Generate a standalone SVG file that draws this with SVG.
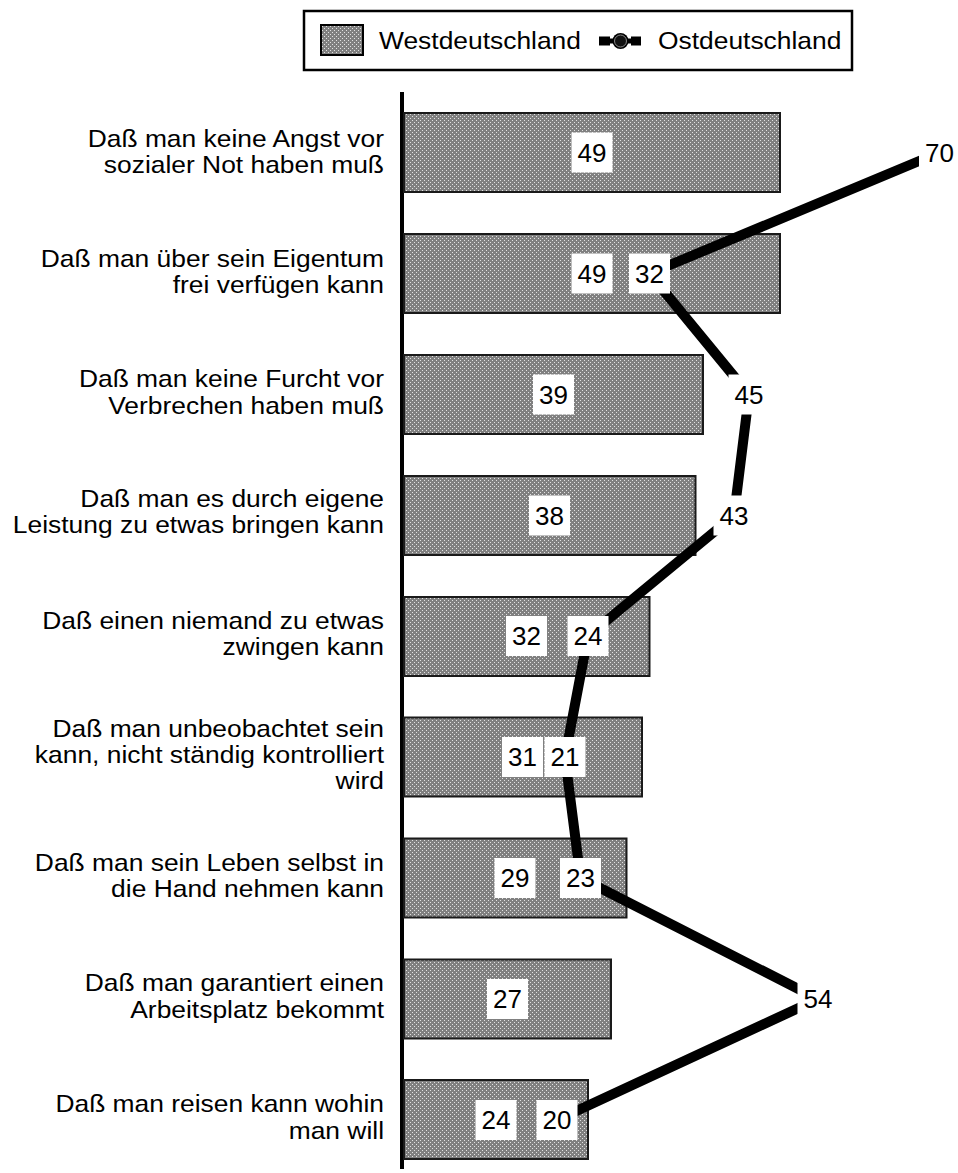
<svg xmlns="http://www.w3.org/2000/svg" width="958" height="1173" viewBox="0 0 958 1173">
<defs>
<pattern id="dots" width="4" height="4" patternUnits="userSpaceOnUse">
<rect width="4" height="4" fill="#808080"/>
<rect x="0" y="0" width="1" height="1" fill="#e2e2e2"/>
<rect x="2" y="2" width="1" height="1" fill="#e2e2e2"/>
</pattern>
<style>
.lbl{font-family:"Liberation Sans",Arial,sans-serif;font-size:24px;fill:#000;text-anchor:end}
.leg{font-family:"Liberation Sans",Arial,sans-serif;font-size:24px;fill:#000}
.bar{fill:url(#dots);stroke:#1a1a1a;stroke-width:2}
.box{fill:#fff}
.num{font-family:"Liberation Sans",Arial,sans-serif;font-size:26px;fill:#000;text-anchor:middle}
.ost{fill:none;stroke:#000;stroke-width:10;stroke-linejoin:round}
</style>
</defs>
<rect width="958" height="1173" fill="#fff"/>

<g id="legend">
<rect x="304" y="11" width="548" height="59" fill="#fff" stroke="#000" stroke-width="2.5"/>
<rect x="321" y="25" width="42" height="30" fill="url(#dots)" stroke="#000" stroke-width="2"/>
<text class="leg" transform="translate(379,49) scale(1.1,1)">Westdeutschland</text>
<line x1="600" y1="41" x2="640" y2="41" stroke="#000" stroke-width="5"/>
<rect x="599" y="36.5" width="11" height="9" fill="#000"/>
<rect x="631" y="36.5" width="10" height="9" fill="#000"/>
<circle cx="620.5" cy="41" r="8" fill="#000"/>
<circle cx="620.5" cy="41" r="6" fill="#111" stroke="#888" stroke-width="1"/>
<text class="leg" transform="translate(658,49) scale(1.1,1)">Ostdeutschland</text>
</g>

<g id="axis">
<line x1="402" y1="92" x2="402" y2="1169" stroke="#000" stroke-width="4"/>
</g>

<g id="categories">
<g id="row-1">
<g transform="translate(384,0) scale(1.1,1)"><text class="lbl" x="0" y="147">Daß man keine Angst vor</text><text class="lbl" x="0" y="173.5">sozialer Not haben muß</text></g>
<rect class="bar" x="404" y="113" width="376" height="79"/>
</g>
<g id="row-2">
<g transform="translate(384,0) scale(1.1,1)"><text class="lbl" x="0" y="267">Daß man über sein Eigentum</text><text class="lbl" x="0" y="293.5">frei verfügen kann</text></g>
<rect class="bar" x="404" y="234" width="376" height="79"/>
</g>
<g id="row-3">
<g transform="translate(384,0) scale(1.1,1)"><text class="lbl" x="0" y="387.5">Daß man keine Furcht vor</text><text class="lbl" x="0" y="414">Verbrechen haben muß</text></g>
<rect class="bar" x="404" y="355" width="299" height="79"/>
</g>
<g id="row-4">
<g transform="translate(384,0) scale(1.1,1)"><text class="lbl" x="0" y="507">Daß man es durch eigene</text><text class="lbl" x="0" y="533">Leistung zu etwas bringen kann</text></g>
<rect class="bar" x="404" y="476" width="291.5" height="79"/>
</g>
<g id="row-5">
<g transform="translate(384,0) scale(1.1,1)"><text class="lbl" x="0" y="629">Daß einen niemand zu etwas</text><text class="lbl" x="0" y="655.5">zwingen kann</text></g>
<rect class="bar" x="404" y="597" width="245.5" height="79"/>
</g>
<g id="row-6">
<g transform="translate(384,0) scale(1.1,1)"><text class="lbl" x="0" y="737">Daß man unbeobachtet sein</text><text class="lbl" x="0" y="763">kann, nicht ständig kontrolliert</text><text class="lbl" x="0" y="789">wird</text></g>
<rect class="bar" x="404" y="717.5" width="238" height="79"/>
</g>
<g id="row-7">
<g transform="translate(384,0) scale(1.1,1)"><text class="lbl" x="0" y="871">Daß man sein Leben selbst in</text><text class="lbl" x="0" y="897.5">die Hand nehmen kann</text></g>
<rect class="bar" x="404" y="838.5" width="222.5" height="79"/>
</g>
<g id="row-8">
<g transform="translate(384,0) scale(1.1,1)"><text class="lbl" x="0" y="991.5">Daß man garantiert einen</text><text class="lbl" x="0" y="1018">Arbeitsplatz bekommt</text></g>
<rect class="bar" x="404" y="959.5" width="207" height="79"/>
</g>
<g id="row-9">
<g transform="translate(384,0) scale(1.1,1)"><text class="lbl" x="0" y="1112.5">Daß man reisen kann wohin</text><text class="lbl" x="0" y="1139">man will</text></g>
<rect class="bar" x="404" y="1080" width="184" height="79"/>
</g>
</g>

<g id="connectors">
<polyline class="ost" points="939.5,152.5 649.5,273.5 749,394.5 734,515.5 588,636 565,757 580.5,878 818,999 557,1120"/>
</g>

<g id="west-values">
<g id="w1"><rect class="box" x="571.5" y="132.5" width="41" height="40"/><text class="num" x="592" y="161.5">49</text></g>
<g id="w2"><rect class="box" x="571.5" y="253.5" width="41" height="40"/><text class="num" x="592" y="282.5">49</text></g>
<g id="w3"><rect class="box" x="533" y="374.5" width="41" height="40"/><text class="num" x="553.5" y="403.5">39</text></g>
<g id="w4"><rect class="box" x="529" y="495.5" width="41" height="40"/><text class="num" x="549.5" y="524.5">38</text></g>
<g id="w5"><rect class="box" x="506" y="616" width="41" height="40"/><text class="num" x="526.5" y="645">32</text></g>
<g id="w6"><rect class="box" x="502" y="737" width="41" height="40"/><text class="num" x="522.5" y="766">31</text></g>
<g id="w7"><rect class="box" x="494.5" y="858" width="41" height="40"/><text class="num" x="515" y="887">29</text></g>
<g id="w8"><rect class="box" x="487" y="979" width="41" height="40"/><text class="num" x="507.5" y="1008">27</text></g>
<g id="w9"><rect class="box" x="475.5" y="1100" width="41" height="40"/><text class="num" x="496" y="1129">24</text></g>
</g>

<g id="east-values">
<g id="o1"><rect class="box" x="919" y="132.5" width="41" height="40"/><text class="num" x="939.5" y="161.5">70</text></g>
<g id="o2"><rect class="box" x="629" y="253.5" width="41" height="40"/><text class="num" x="649.5" y="282.5">32</text></g>
<g id="o3"><rect class="box" x="728.5" y="374.5" width="41" height="40"/><text class="num" x="749" y="403.5">45</text></g>
<g id="o4"><rect class="box" x="713.5" y="495.5" width="41" height="40"/><text class="num" x="734" y="524.5">43</text></g>
<g id="o5"><rect class="box" x="567.5" y="616" width="41" height="40"/><text class="num" x="588" y="645">24</text></g>
<g id="o6"><rect class="box" x="544.5" y="737" width="41" height="40"/><text class="num" x="565" y="766">21</text></g>
<g id="o7"><rect class="box" x="560" y="858" width="41" height="40"/><text class="num" x="580.5" y="887">23</text></g>
<g id="o8"><rect class="box" x="797.5" y="979" width="41" height="40"/><text class="num" x="818" y="1008">54</text></g>
<g id="o9"><rect class="box" x="536.5" y="1100" width="41" height="40"/><text class="num" x="557" y="1129">20</text></g>
</g>
</svg>
